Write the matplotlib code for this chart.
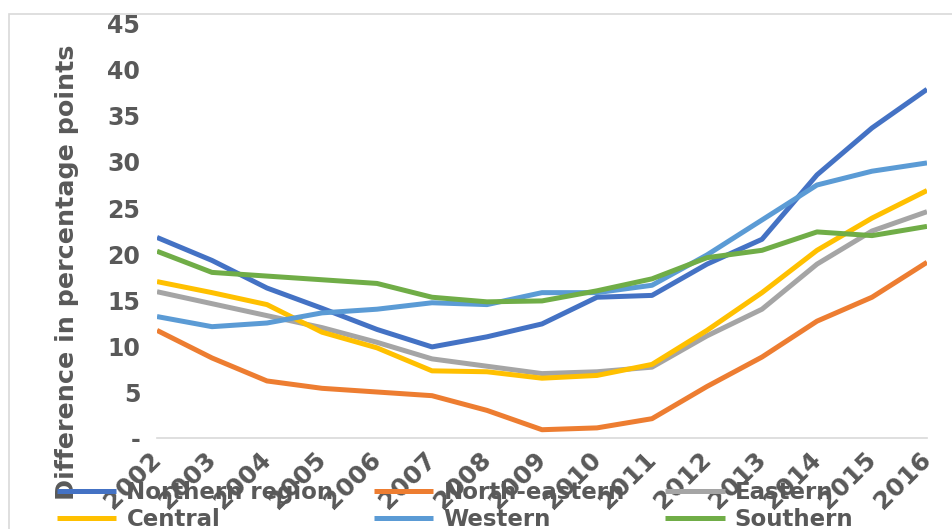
import matplotlib.pyplot as plt
import matplotlib.patches as patches
import numpy as np

years = [str(y) for y in range(2002, 2017)]

northern = [21.8, 19.3, 16.3, 14.1, 11.8, 9.9, 11.0, 12.4, 15.3, 15.5, 18.9, 21.6, 28.6, 33.7, 37.9]
north_eastern = [11.7, 8.7, 6.2, 5.4, 5.0, 4.6, 3.0, 0.9, 1.1, 2.1, 5.6, 8.8, 12.7, 15.3, 19.1]
eastern = [15.9, 14.6, 13.3, 12.0, 10.4, 8.6, 7.8, 7.0, 7.2, 7.7, 11.1, 14.0, 18.9, 22.5, 24.6]
central = [17.0, 15.8, 14.5, 11.5, 9.8, 7.3, 7.2, 6.5, 6.8, 8.0, 11.7, 15.8, 20.4, 23.9, 26.9]
western = [13.2, 12.1, 12.5, 13.6, 14.0, 14.7, 14.5, 15.8, 15.8, 16.6, 19.9, 23.7, 27.5, 29.0, 29.9]
southern = [20.3, 18.0, 17.6, 17.2, 16.8, 15.3, 14.8, 14.9, 16.0, 17.3, 19.6, 20.4, 22.4, 22.0, 23.0]

series = [
    ('Northern region', northern, '#4472C4'),
    ('North-eastern', north_eastern, '#ED7D31'),
    ('Eastern', eastern, '#A5A5A5'),
    ('Central', central, '#FFC000'),
    ('Western', western, '#5B9BD5'),
    ('Southern', southern, '#70AD47'),
]

text_color = '#595959'

fig = plt.figure(figsize=(9.52, 5.29), dpi=100)
ax = fig.add_axes([157 / 952, 1 - 438 / 529, (927 - 157) / 952, (438 - 24) / 529])

x = np.arange(len(years))
lines = []
for name, vals, color in series:
    ln, = ax.plot(x, vals, color=color, lw=3.6, label=name, solid_capstyle='butt')
    lines.append(ln)

ax.set_xlim(0, len(years) - 1)
ax.set_ylim(0, 45)
ax.set_yticks(range(0, 46, 5))
ax.set_yticklabels(['-'] + [str(v) for v in range(5, 46, 5)])
ax.set_xticks(x)
ax.set_xticklabels(years, rotation=45, ha='right', va='center', rotation_mode='anchor')

for lbl in ax.get_yticklabels():
    lbl.set_fontweight('bold')
    lbl.set_fontsize(17)
    lbl.set_color(text_color)
for lbl in ax.get_xticklabels():
    lbl.set_fontweight('bold')
    lbl.set_fontsize(18)
    lbl.set_color(text_color)
ax.tick_params(axis='both', length=0)
ax.tick_params(axis='y', pad=12)
ax.tick_params(axis='x', pad=13)

for side in ['left', 'right', 'top']:
    ax.spines[side].set_visible(False)
ax.spines['bottom'].set_color('#D9D9D9')
ax.spines['bottom'].set_linewidth(1.2)

fig.text(67 / 952, 1 - 272 / 529, 'Difference in percentage points', rotation=90,
         ha='center', va='center', fontsize=18.3, fontweight='bold', color=text_color)

# legend fills column by column, so reorder to get three per row
order = [0, 3, 1, 4, 2, 5]
leg = fig.legend([lines[i] for i in order], [series[i][0] for i in order],
                 loc='center', bbox_to_anchor=(455 / 952, 1 - 506 / 529), ncol=3,
                 frameon=False, handlelength=2.6, columnspacing=1.75, handletextpad=0.45,
                 labelspacing=0.2, borderpad=0, prop={'weight': 'bold', 'size': 16.5})
for t in leg.get_texts():
    t.set_color(text_color)

# light outer frame around the chart area
frame = patches.Rectangle((9 / 952, -0.1), 1.0, 1 - 14 / 529 + 0.1, transform=fig.transFigure,
                          fill=False, edgecolor='#D9D9D9', lw=1.2)
fig.patches.append(frame)

fig.savefig('out.png', dpi=100)
